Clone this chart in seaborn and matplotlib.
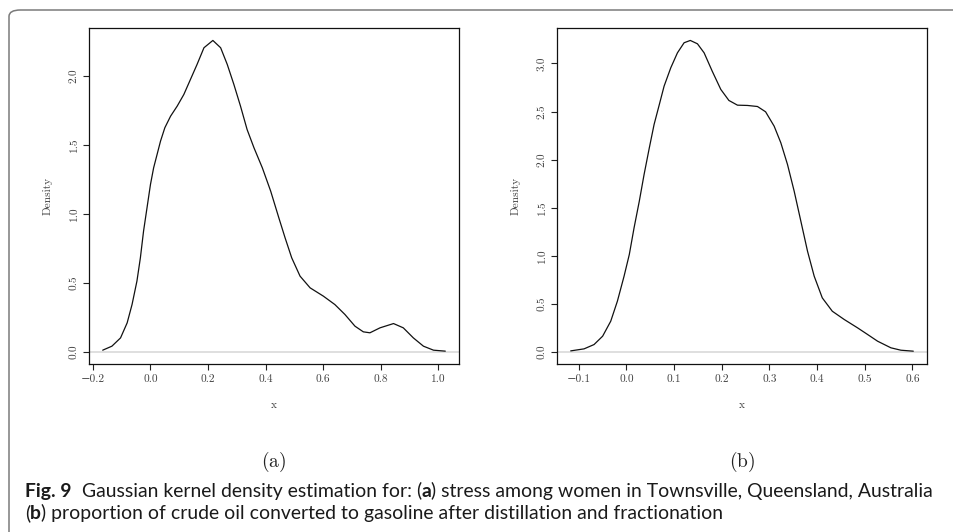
import numpy as np
import pandas as pd
import matplotlib
matplotlib.use("Agg")
import matplotlib.pyplot as plt
import seaborn as sns
from matplotlib.patches import FancyBboxPatch

# ---------------- data ----------------
stress_x = [-0.166, -0.134, -0.104, -0.081, -0.064, -0.047, -0.035, -0.024, -0.012, 0.000,
            0.011, 0.023, 0.035, 0.050, 0.070, 0.093, 0.116, 0.139, 0.162, 0.186,
            0.217, 0.244, 0.267, 0.290, 0.313, 0.336, 0.360, 0.389, 0.418, 0.447,
            0.468, 0.491, 0.520, 0.555, 0.601, 0.641, 0.676, 0.711, 0.740, 0.763,
            0.798, 0.845, 0.879, 0.914, 0.949, 0.984, 1.025]
stress_density = [0.010, 0.039, 0.099, 0.208, 0.341, 0.511, 0.680, 0.873, 1.042, 1.211,
                  1.332, 1.429, 1.526, 1.623, 1.707, 1.780, 1.864, 1.973, 2.082, 2.203,
                  2.256, 2.203, 2.082, 1.937, 1.780, 1.610, 1.477, 1.332, 1.163, 0.965,
                  0.825, 0.680, 0.547, 0.462, 0.402, 0.341, 0.269, 0.184, 0.143, 0.136,
                  0.172, 0.203, 0.172, 0.099, 0.039, 0.010, 0.003]

oil_x = [-0.117, -0.089, -0.068, -0.050, -0.033, -0.019, -0.005, 0.006, 0.016, 0.027,
         0.037, 0.048, 0.058, 0.069, 0.079, 0.093, 0.107, 0.121, 0.134, 0.149,
         0.163, 0.180, 0.198, 0.215, 0.233, 0.254, 0.275, 0.292, 0.310, 0.324,
         0.338, 0.352, 0.366, 0.380, 0.394, 0.411, 0.432, 0.457, 0.485, 0.506,
         0.527, 0.555, 0.576, 0.602]
oil_density = [0.007, 0.028, 0.073, 0.160, 0.316, 0.525, 0.785, 1.011, 1.289, 1.567,
               1.844, 2.122, 2.365, 2.573, 2.764, 2.955, 3.111, 3.216, 3.240, 3.205,
               3.111, 2.920, 2.730, 2.615, 2.566, 2.563, 2.552, 2.497, 2.347, 2.174,
               1.948, 1.670, 1.358, 1.045, 0.785, 0.559, 0.420, 0.334, 0.247, 0.178,
               0.108, 0.039, 0.014, 0.004]

stress_xticks = [-0.2, 0.0, 0.2, 0.4, 0.6, 0.8, 1.0]
stress_yticks = [0.0, 0.5, 1.0, 1.5, 2.0]
oil_xticks = [-0.1, 0.0, 0.1, 0.2, 0.3, 0.4, 0.5, 0.6]
oil_yticks = [0.0, 0.5, 1.0, 1.5, 2.0, 2.5, 3.0]

panel_labels = ["(a)", "(b)"]
x_label = "x"
y_label = "Density"

caption_line1 = [("Fig. 9", "bold"), ("  Gaussian kernel density estimation for: (", "normal"),
                 ("a", "bold"), (") stress among women in Townsville, Queensland, Australia", "normal")]
caption_line2 = [("(", "normal"), ("b", "bold"),
                 (") proportion of crude oil converted to gasoline after distillation and fractionation", "normal")]

# ---------------- style ----------------
sns.set_style("ticks")
plt.rcParams["font.family"] = ["cmr10", "DejaVu Serif"]
plt.rcParams["mathtext.fontset"] = "cm"
plt.rcParams["axes.unicode_minus"] = True

W, H = 954, 532
fig = plt.figure(figsize=(W / 100, H / 100), dpi=100)


def px_axes(x0, y0, x1, y1):
    return fig.add_axes([x0 / W, 1 - y1 / H, (x1 - x0) / W, (y1 - y0) / H])


axA = px_axes(89, 28, 459, 364)
axB = px_axes(557, 28, 927, 364)


def fmt(v):
    s = f"{v:.1f}"
    return s.replace("-", "\u2212")


def draw_panel(ax, xs, ys, xticks, yticks):
    ax.axhline(0, color="#dcdcdc", lw=1.3, zorder=1)
    df = pd.DataFrame({"x": xs, "density": ys})
    sns.lineplot(data=df, x="x", y="density", ax=ax, color="#111111", lw=0.9,
                 sort=False, estimator=None, zorder=3)
    xr = max(xs) - min(xs)
    yr = max(ys)
    ax.set_xlim(min(xs) - 0.04 * xr, max(xs) + 0.04 * xr)
    ax.set_ylim(-0.04 * yr, yr * 1.04)
    ax.set_xticks(xticks)
    ax.set_xticklabels([fmt(v) for v in xticks])
    ax.set_yticks(yticks)
    ax.set_yticklabels([fmt(v) for v in yticks])
    for sp in ax.spines.values():
        sp.set_visible(True)
        sp.set_linewidth(0.9)
        sp.set_color("#111111")
    ax.tick_params(direction="out", length=4.2, width=0.8, color="#222222",
                   labelsize=8.2, labelcolor="#444444", pad=3.3)
    for t in ax.get_yticklabels():
        t.set_rotation(90)
        t.set_va("center")
    ax.set_xlabel(x_label, fontsize=8.2, color="#444444")
    ax.set_ylabel(y_label, fontsize=8.2, color="#444444")
    ax.xaxis.set_label_coords(0.5, -0.108)
    ax.yaxis.set_label_coords(-0.098, 0.5)
    ax.set_facecolor("white")


draw_panel(axA, stress_x, stress_density, stress_xticks, stress_yticks)
draw_panel(axB, oil_x, oil_density, oil_xticks, oil_yticks)

# panel letters
for ax, lab in zip([axA, axB], panel_labels):
    bb = ax.get_position()
    fig.text((bb.x0 + bb.x1) / 2, 1 - 462 / H, r"$\mathrm{" + lab + "}$", fontsize=14,
             ha="center", va="center", color="#222222")

# border (rounded box running off the right and bottom edges)
border = FancyBboxPatch((9 / W, -0.2), 1.2, 1 - 10 / H + 0.2,
                        boxstyle="round,pad=0,rounding_size=0.012",
                        transform=fig.transFigure, facecolor="none",
                        edgecolor="#7a7a7a", lw=1.1, clip_on=False)
fig.patches.append(border)

# caption
renderer = fig.canvas.get_renderer()
cap_family = ["Lato", "DejaVu Sans"]


def draw_line(pieces, x0, baseline, size):
    x = x0
    for txt, wt in pieces:
        t = fig.text(x / W, 1 - baseline / H, txt, fontsize=size, fontweight=wt,
                     family=cap_family, ha="left", va="baseline", color="#1a1a1a")
        bb = t.get_window_extent(renderer)
        x += bb.width
    return x


# fit caption size to reference width of line 1 (x 25 -> 932)
test = fig.text(0, 0, "".join(p[0] for p in caption_line1), fontsize=10, family=cap_family)
w10 = test.get_window_extent(renderer).width
test.remove()
cap_size = 10 * (932 - 25) / w10

draw_line(caption_line1, 25, 497, cap_size)
draw_line(caption_line2, 25, 519, cap_size)

fig.savefig("out.png", dpi=100)
